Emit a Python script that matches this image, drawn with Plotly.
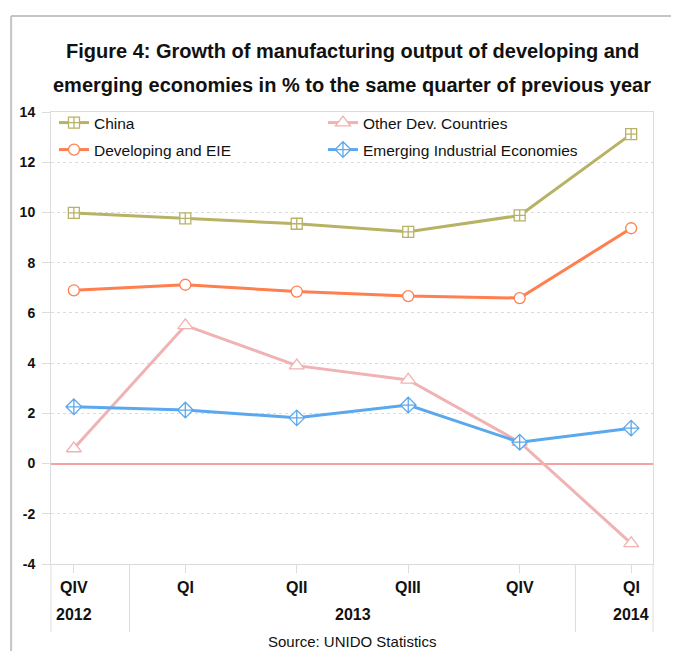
import plotly.graph_objects as go

quarters = ["QIV", "QI", "QII", "QIII", "QIV", "QI"]
years = ["2012", "2013", "2013", "2013", "2013", "2014"]

china = [9.98, 9.76, 9.55, 9.23, 9.88, 13.12]
other_dev = [0.60, 5.50, 3.90, 3.33, 0.85, -3.18]
developing_eie = [6.90, 7.12, 6.85, 6.67, 6.59, 9.37]
emerging_ie = [2.26, 2.13, 1.82, 2.33, 0.85, 1.41]

y_ticks = [-4, -2, 0, 2, 4, 6, 8, 10, 12, 14]

series = [
    ("China", china, "#b8b265", "square-cross", 11, "legend"),
    ("Other Dev. Countries", other_dev, "#f0b2b2", "triangle-up", 13, "legend"),
    ("Developing and EIE", developing_eie, "#ff7f4f", "circle", 11, "legend2"),
    ("Emerging Industrial Economies", emerging_ie, "#5aa8ee", "diamond-cross", 12, "legend2"),
]

FONT = "Liberation Sans, Arial, sans-serif"
OFF = 8  # page body margin
W, H = 679 - OFF, 651 - OFF
ML, MT = 49 - OFF, 112 - OFF
PW, PH = 604, 452
MR, MB = W - ML - PW, H - MT - PH


def px_x(p):
    return (p - OFF - ML) / PW


def px_y(p):
    return (OFF + MT + PH - p) / PH


xs = list(range(len(quarters)))
fig = go.Figure()
for name, vals, col, sym, sz, lg in series:
    fig.add_trace(go.Scatter(
        x=xs, y=vals, name=name, mode="lines+markers", legend=lg,
        line=dict(color=col, width=3),
        marker=dict(symbol=sym, size=sz, color="white",
                    line=dict(color=col, width=1.3)),
    ))

annotations = []
annotations.append(dict(text="<b>Figure 4: Growth of manufacturing output of developing and</b>",
                        x=0.5, y=px_y(51), xref="paper", yref="paper", showarrow=False,
                        font=dict(family=FONT, size=20, color="#111"), yanchor="middle"))
annotations.append(dict(text="<b>emerging economies in % to the same quarter of previous year</b>",
                        x=0.5, y=px_y(85), xref="paper", yref="paper", showarrow=False,
                        font=dict(family=FONT, size=20, color="#111"), yanchor="middle"))
for i, q in enumerate(quarters):
    annotations.append(dict(text="<b>%s</b>" % q, x=i, y=px_y(587), xref="x", yref="paper",
                            showarrow=False, yanchor="middle",
                            font=dict(family=FONT, size=16, color="#111")))
groups = []
for i, yv in enumerate(years):
    if groups and groups[-1][0] == yv:
        groups[-1][2] = i
    else:
        groups.append([yv, i, i])
shapes = []
for yv, a, b in groups:
    annotations.append(dict(text="<b>%s</b>" % yv, x=(a + b) / 2, y=px_y(614), xref="x", yref="paper",
                            showarrow=False, yanchor="middle",
                            font=dict(family=FONT, size=16, color="#111")))
for yv, a, b in groups[:-1]:
    shapes.append(dict(type="line", xref="x", yref="paper", x0=b + 0.5, x1=b + 0.5,
                       y0=px_y(632), y1=0, line=dict(color="#dcdcdc", width=1)))
for xp in (0, 1):
    shapes.append(dict(type="line", xref="paper", yref="paper", x0=xp, x1=xp,
                       y0=px_y(632), y1=0, line=dict(color="#dcdcdc", width=1)))
annotations.append(dict(text="Source: UNIDO Statistics", x=0.5, y=px_y(641), xref="paper", yref="paper",
                        showarrow=False, yanchor="middle",
                        font=dict(family=FONT, size=15, color="#111")))
shapes.append(dict(type="line", xref="paper", yref="paper", x0=px_x(9), x1=px_x(700),
                   y0=px_y(16), y1=px_y(16), line=dict(color="#c4c4c4", width=2)))
shapes.append(dict(type="line", xref="paper", yref="paper", x0=px_x(9), x1=px_x(9),
                   y0=px_y(16), y1=px_y(700), line=dict(color="#c4c4c4", width=2)))

leg_common = dict(orientation="h", xanchor="left", yanchor="top", entrywidth=224,
                  bgcolor="rgba(0,0,0,0)", itemwidth=30,
                  font=dict(family=FONT, size=15.5, color="#111"))

fig.update_layout(
    width=W, height=H,
    margin=dict(l=ML, r=MR, t=MT, b=MB),
    paper_bgcolor="white", plot_bgcolor="white",
    font=dict(family=FONT, color="#111"),
    showlegend=True,
    legend=dict(x=px_x(52), y=px_y(106), **leg_common),
    legend2=dict(x=px_x(52), y=px_y(133), **leg_common),
    annotations=annotations,
    shapes=shapes,
    xaxis=dict(range=[-0.205, 5.196], tickvals=xs, showticklabels=False,
               ticks="outside", ticklen=8, tickcolor="#dcdcdc",
               showgrid=False, zeroline=False, showline=True, mirror=True,
               linecolor="#dcdcdc", linewidth=1),
    yaxis=dict(range=[-4, 14], tickvals=y_ticks, ticktext=[str(v) for v in y_ticks],
               ticks="outside", ticklen=8, ticklabelstandoff=4,
               tickcolor="#dcdcdc", showline=True, mirror=True, linecolor="#dcdcdc",
               linewidth=1, showgrid=True, gridcolor="#dcdcdc", griddash="dot",
               gridwidth=1, zeroline=True, zerolinecolor="#f3a3a3", zerolinewidth=2,
               tickfont=dict(family=FONT, size=14, color="#111", weight="bold")),
)
fig.write_html("out.html")
